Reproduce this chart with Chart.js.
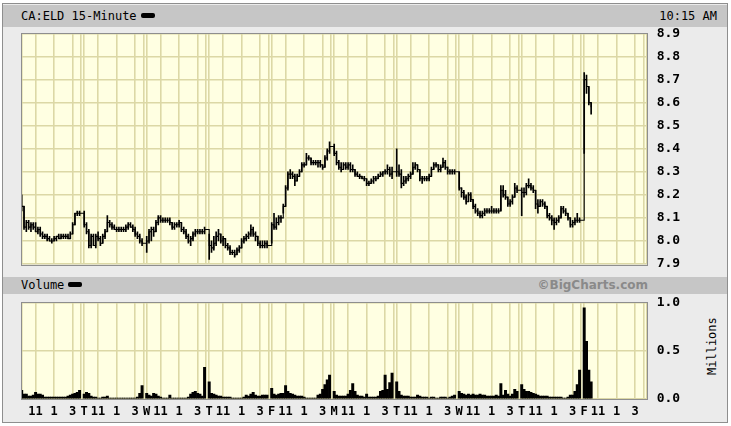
<!DOCTYPE html>
<html>
<head>
<meta charset="utf-8">
<title>CA:ELD 15-Minute</title>
<script src="https://cdn.jsdelivr.net/npm/chart.js@4.4.1/dist/chart.umd.min.js"></script>
<style>
    body { margin: 0; width: 731px; height: 426px; position: relative; overflow: hidden; background: #ffffff; font-family: 'DejaVu Sans Mono', monospace; font-size: 12px; color: #000; }
    #frame { position: absolute; left: 2px; top: 3px; width: 726px; height: 420px; box-sizing: border-box; border: 1px solid #8e8e8e; background: #ebebeb; }
    .strip { position: absolute; left: 3px; width: 724px; background: #c6c6c6; }
    .txt { position: absolute; white-space: nowrap; }
    .swatch { display: inline-block; width: 14px; height: 5px; background: #000; border-radius: 2px; vertical-align: middle; margin-left: 4px; position: relative; top: -1px; }
    .brand { font-family: 'DejaVu Sans', sans-serif; font-weight: bold; color: #8a8a8a; }
    canvas { position: absolute; left: 0; }
</style>
</head>
<body>
<div id="frame"></div>
<div class="strip" style="top:5px;height:22px"></div>
<div class="txt" style="left:21px;top:9px">CA:ELD 15-Minute<span class="swatch"></span></div>
<div class="txt" style="right:14px;top:9px">10:15 AM</div>
<div class="strip" style="top:277px;height:17px"></div>
<div class="txt" style="left:21px;top:278px">Volume<span class="swatch"></span></div>
<div class="txt brand" style="right:83px;top:278px">©BigCharts.com</div>
<div class="txt" style="left:684px;top:340px;width:56px;text-align:center;transform:rotate(-90deg)">Millions</div>
<canvas id="priceChart" width="731" height="248" style="top:24px"></canvas>
<canvas id="volumeChart" width="731" height="130" style="top:293px"></canvas>
<script>
// dias do eixo (primeiro não é rotulado) e horas marcadas em cada dia
const dayLetters = ['M', 'T', 'W', 'T', 'F', 'M', 'T', 'W', 'T', 'F'];
const hourLabels = ['11', '1', '3'];

// barras de 15 minutos, 26 por dia, último dia até 10:15
const highs = [
    8.20,8.15,8.09,8.09,8.08,8.08,8.08,8.06,8.06,8.04,8.03,8.03,8.02,8.01,8.02,8.02,8.03,8.03,8.03,8.03,8.03,8.04,8.08,8.12,8.13,8.13,
    8.13,8.08,8.05,8.03,8.03,8.03,8.04,8.02,8.03,8.05,8.11,8.09,8.08,8.07,8.06,8.06,8.06,8.06,8.07,8.08,8.08,8.07,8.06,8.04,8.03,8.01,
    8.02,8.05,8.06,8.06,8.09,8.11,8.11,8.10,8.10,8.10,8.10,8.08,8.08,8.08,8.09,8.08,8.06,8.05,8.03,8.02,8.04,8.05,8.05,8.05,8.05,8.06,
    8.03,8.00,8.02,8.04,8.05,8.03,8.02,8.01,7.99,7.98,7.96,7.96,7.97,7.98,8.01,8.02,8.03,8.04,8.07,8.06,8.04,8.02,8.00,8.00,8.00,8.00,
    8.08,8.12,8.10,8.11,8.11,8.16,8.24,8.30,8.31,8.30,8.29,8.29,8.31,8.34,8.34,8.38,8.37,8.36,8.35,8.35,8.35,8.35,8.33,8.37,8.40,8.43,
    8.42,8.39,8.35,8.34,8.34,8.34,8.34,8.34,8.33,8.31,8.30,8.29,8.28,8.28,8.27,8.26,8.27,8.28,8.28,8.29,8.30,8.30,8.31,8.33,8.32,8.32,
    8.40,8.33,8.31,8.28,8.28,8.29,8.30,8.34,8.34,8.33,8.31,8.28,8.28,8.28,8.29,8.32,8.34,8.34,8.33,8.33,8.36,8.35,8.32,8.31,8.31,8.31,
    8.30,8.23,8.22,8.20,8.21,8.21,8.18,8.16,8.14,8.13,8.13,8.14,8.14,8.14,8.15,8.14,8.14,8.14,8.24,8.24,8.22,8.19,8.18,8.20,8.25,8.24,
    8.23,8.23,8.25,8.27,8.25,8.24,8.22,8.18,8.18,8.18,8.17,8.15,8.12,8.11,8.10,8.10,8.11,8.15,8.15,8.14,8.12,8.10,8.09,8.10,8.12,8.10,
    8.73,8.72,8.67,8.60
];
const lows = [
    8.13,8.05,8.04,8.05,8.04,8.05,8.04,8.03,8.02,8.01,8.01,8.00,8.00,7.99,8.00,8.00,8.01,8.01,8.01,8.01,8.01,8.01,8.03,8.07,8.11,8.11,
    8.06,8.03,7.97,7.97,7.98,7.97,8.00,7.98,7.99,8.01,8.04,8.06,8.05,8.05,8.04,8.04,8.04,8.04,8.04,8.05,8.06,8.04,8.02,8.01,7.99,7.98,
    7.95,7.99,8.00,8.02,8.04,8.07,8.08,8.08,8.08,8.08,8.07,8.05,8.05,8.06,8.06,8.04,8.03,8.01,7.99,7.98,8.00,8.02,8.03,8.03,8.03,8.03,
    7.92,7.95,7.96,7.98,8.00,7.99,7.98,7.97,7.96,7.94,7.94,7.93,7.94,7.95,7.97,7.99,8.00,8.01,8.02,8.02,8.00,7.98,7.97,7.97,7.97,7.97,
    7.99,8.05,8.05,8.07,8.08,8.12,8.15,8.22,8.27,8.27,8.24,8.26,8.28,8.30,8.32,8.33,8.35,8.33,8.33,8.33,8.32,8.32,8.31,8.32,8.35,8.38,
    8.37,8.33,8.31,8.30,8.31,8.31,8.31,8.30,8.30,8.28,8.28,8.27,8.27,8.26,8.24,8.24,8.25,8.25,8.26,8.27,8.28,8.28,8.29,8.29,8.28,8.27,
    8.28,8.28,8.23,8.24,8.25,8.26,8.27,8.29,8.31,8.30,8.26,8.25,8.26,8.26,8.26,8.28,8.31,8.32,8.30,8.30,8.32,8.31,8.29,8.29,8.29,8.29,
    8.22,8.19,8.18,8.16,8.17,8.17,8.14,8.12,8.11,8.10,8.10,8.11,8.12,8.12,8.12,8.12,8.12,8.12,8.13,8.19,8.18,8.15,8.15,8.16,8.19,8.21,
    8.11,8.19,8.20,8.23,8.22,8.21,8.14,8.12,8.15,8.15,8.14,8.10,8.09,8.07,8.05,8.07,8.08,8.10,8.12,8.11,8.09,8.06,8.06,8.07,8.08,8.08,
    8.38,8.64,8.59,8.55
];
const closes = [
    8.15,8.06,8.08,8.06,8.07,8.06,8.04,8.05,8.03,8.02,8.02,8.01,8.00,8.00,8.01,8.02,8.01,8.02,8.02,8.02,8.01,8.03,8.07,8.12,8.12,8.12,
    8.07,8.04,7.98,8.02,7.98,8.02,8.01,7.99,8.02,8.04,8.08,8.07,8.06,8.05,8.05,8.05,8.05,8.05,8.06,8.07,8.06,8.05,8.03,8.02,8.00,7.99,
    8.00,8.04,8.05,8.04,8.08,8.10,8.09,8.09,8.09,8.09,8.08,8.06,8.07,8.07,8.08,8.05,8.04,8.02,8.00,8.01,8.03,8.04,8.04,8.04,8.04,8.05,
    7.98,7.97,7.99,8.02,8.03,8.00,8.01,7.98,7.97,7.95,7.95,7.94,7.96,7.97,8.00,8.01,8.02,8.03,8.05,8.03,8.02,7.99,7.98,7.98,7.99,7.98,
    8.07,8.06,8.08,8.10,8.10,8.15,8.23,8.29,8.29,8.28,8.26,8.28,8.30,8.33,8.33,8.36,8.36,8.34,8.34,8.34,8.34,8.33,8.32,8.36,8.39,8.41,
    8.38,8.34,8.32,8.31,8.33,8.32,8.33,8.31,8.31,8.29,8.28,8.28,8.27,8.27,8.25,8.25,8.26,8.27,8.27,8.28,8.29,8.30,8.30,8.31,8.29,8.30,
    8.30,8.29,8.25,8.26,8.27,8.28,8.29,8.32,8.33,8.31,8.27,8.27,8.27,8.27,8.28,8.31,8.33,8.33,8.31,8.32,8.34,8.32,8.30,8.30,8.30,8.30,
    8.23,8.21,8.19,8.17,8.20,8.18,8.15,8.13,8.12,8.11,8.12,8.13,8.13,8.13,8.13,8.13,8.13,8.13,8.22,8.20,8.19,8.16,8.17,8.19,8.23,8.22,
    8.21,8.21,8.24,8.24,8.23,8.22,8.16,8.15,8.17,8.16,8.15,8.11,8.10,8.09,8.08,8.09,8.10,8.14,8.13,8.12,8.10,8.07,8.08,8.09,8.09,8.09,
    8.70,8.67,8.60,8.58
];
// volume em milhões
const volumes = [
    0.09,0.05,0.05,0.03,0.03,0.04,0.07,0.05,0.05,0.04,0.02,0.02,0.02,0.02,0.02,0.02,0.02,0.02,0.02,0.02,0.03,0.04,0.05,0.06,0.07,0.09,
    0.05,0.07,0.06,0.03,0.02,0.02,0.01,0.01,0.02,0.02,0.03,0.01,0.01,0.01,0.01,0.01,0.01,0.01,0.01,0.01,0.01,0.01,0.01,0.02,0.06,0.14,
    0.06,0.04,0.03,0.06,0.05,0.03,0.02,0.01,0.01,0.01,0.04,0.01,0.01,0.01,0.01,0.01,0.01,0.01,0.02,0.05,0.07,0.08,0.06,0.05,0.03,0.33,
    0.18,0.06,0.05,0.04,0.03,0.03,0.02,0.02,0.02,0.02,0.01,0.01,0.01,0.01,0.01,0.02,0.04,0.03,0.05,0.07,0.04,0.03,0.03,0.04,0.04,0.04,
    0.11,0.05,0.04,0.05,0.06,0.06,0.14,0.08,0.06,0.05,0.04,0.03,0.03,0.03,0.02,0.01,0.01,0.01,0.01,0.01,0.04,0.05,0.10,0.15,0.20,0.25,
    0.08,0.04,0.03,0.03,0.03,0.03,0.05,0.09,0.16,0.08,0.04,0.03,0.03,0.02,0.05,0.02,0.02,0.02,0.02,0.03,0.08,0.09,0.25,0.10,0.17,0.27,
    0.18,0.08,0.04,0.03,0.03,0.03,0.02,0.02,0.02,0.04,0.03,0.02,0.02,0.02,0.01,0.02,0.02,0.01,0.01,0.02,0.02,0.02,0.01,0.02,0.03,0.04,
    0.08,0.06,0.05,0.04,0.05,0.04,0.05,0.04,0.04,0.05,0.04,0.04,0.03,0.03,0.03,0.03,0.04,0.03,0.16,0.04,0.09,0.05,0.03,0.05,0.10,0.08,
    0.15,0.10,0.08,0.08,0.07,0.06,0.05,0.04,0.03,0.03,0.03,0.03,0.02,0.02,0.02,0.02,0.02,0.02,0.01,0.01,0.02,0.04,0.04,0.08,0.15,0.30,
    0.95,0.60,0.30,0.18
];

const BARS_PER_DAY = 26;
const SLOTS_PER_DAY = 27;      // 26 barras + um espaço entre os dias
const HOUR_SLOTS = [6, 14, 22]; // 11h, 13h, 15h
const DAYS = dayLetters.length;
const GRID = '#dcd8a6';

function slotOf(i) {
    return Math.floor(i / BARS_PER_DAY) * SLOTS_PER_DAY + i % BARS_PER_DAY;
}

// linhas verticais: início do dia, 11h, 13h, 15h e fechamento (linha dupla entre dias)
const gridSlots = [];
for (let d = 0; d < DAYS; d++) {
    const start = d * SLOTS_PER_DAY;
    gridSlots.push(start, start + HOUR_SLOTS[0], start + HOUR_SLOTS[1], start + HOUR_SLOTS[2], start + SLOTS_PER_DAY - 1.3);
}
gridSlots.push(DAYS * SLOTS_PER_DAY);

function slotLabel(v) {
    const d = Math.floor(v / SLOTS_PER_DAY);
    const r = v - d * SLOTS_PER_DAY;
    if (r === 0) return d > 0 && d < DAYS ? dayLetters[d] : '';
    const h = HOUR_SLOTS.indexOf(r);
    return h >= 0 ? hourLabels[h] : '';
}

Chart.defaults.font.family = "'DejaVu Sans Mono', monospace";
Chart.defaults.color = '#000';
Chart.defaults.animation = false;

// fundo amarelo e moldura da área do gráfico
const plotFrame = {
    id: 'plotFrame',
    beforeDraw(chart) {
        const a = chart.chartArea, ctx = chart.ctx;
        ctx.save();
        ctx.fillStyle = '#ffffe2';
        ctx.fillRect(a.left, a.top, a.right - a.left, a.bottom - a.top);
        ctx.restore();
    },
    afterDraw(chart) {
        const a = chart.chartArea, ctx = chart.ctx;
        ctx.save();
        ctx.strokeStyle = '#8e8e8e';
        ctx.lineWidth = 1;
        ctx.strokeRect(Math.round(a.left) - 0.5, Math.round(a.top) - 0.5, Math.round(a.right - a.left) + 1, Math.round(a.bottom - a.top) + 1);
        ctx.restore();
    }
};

function timeAxis(showLabels) {
    return {
        type: 'linear',
        min: 0,
        max: DAYS * SLOTS_PER_DAY,
        offset: false,
        afterBuildTicks: scale => { scale.ticks = gridSlots.map(v => ({ value: v })); },
        afterFit: scale => { scale.height = showLabels ? 24 : 0; },
        grid: { color: GRID, lineWidth: 1.6, drawTicks: false, offset: false },
        border: { display: false },
        ticks: {
            display: showLabels,
            autoSkip: false,
            maxRotation: 0,
            padding: 6,
            font: { size: 12, weight: 'bold' },
            callback: v => slotLabel(v)
        }
    };
}

function valueAxis(min, max, step) {
    return {
        position: 'right',
        min: min,
        max: max,
        afterFit: scale => { scale.width = 84.3; },
        grid: { color: GRID, lineWidth: 1.6, drawTicks: true, tickLength: 10, tickColor: 'rgba(0,0,0,0)' },
        border: { display: false },
        ticks: { stepSize: step, padding: 0, font: { size: 13, weight: 'bold' }, callback: v => v.toFixed(1) }
    };
}

const commonPlugins = { legend: { display: false }, tooltip: { enabled: false } };

// Gráfico de preço (barras máxima/mínima + fechamento em degraus)
const priceCtx = document.getElementById('priceChart').getContext('2d');
new Chart(priceCtx, {
    data: {
        datasets: [{
            type: 'bar',
            data: highs.map((h, i) => ({ x: slotOf(i), y: [lows[i], h] })),
            backgroundColor: '#000',
            barThickness: 1,
            borderWidth: 0
        }, {
            type: 'line',
            data: closes.map((c, i) => ({ x: slotOf(i), y: c })),
            borderColor: '#000',
            borderWidth: 1.1,
            stepped: true,
            pointRadius: 0,
            fill: false
        }]
    },
    options: {
        responsive: false,
        devicePixelRatio: 1,
        layout: { padding: { left: 21.7, right: 0, top: 9.5, bottom: 8 } },
        plugins: commonPlugins,
        scales: { x: timeAxis(false), y: valueAxis(7.9, 8.9, 0.1) }
    },
    plugins: [plotFrame]
});

// Gráfico de volume
const volumeCtx = document.getElementById('volumeChart').getContext('2d');
new Chart(volumeCtx, {
    type: 'bar',
    data: {
        datasets: [{
            data: volumes.map((v, i) => ({ x: slotOf(i), y: v })),
            backgroundColor: '#000',
            borderWidth: 0,
            barPercentage: 1,
            categoryPercentage: 1
        }]
    },
    options: {
        responsive: false,
        devicePixelRatio: 1,
        layout: { padding: { left: 21.7, right: 0, top: 10, bottom: 0 } },
        plugins: commonPlugins,
        scales: { x: timeAxis(true), y: valueAxis(0, 1, 0.5) }
    },
    plugins: [plotFrame]
});
</script>
</body>
</html>
